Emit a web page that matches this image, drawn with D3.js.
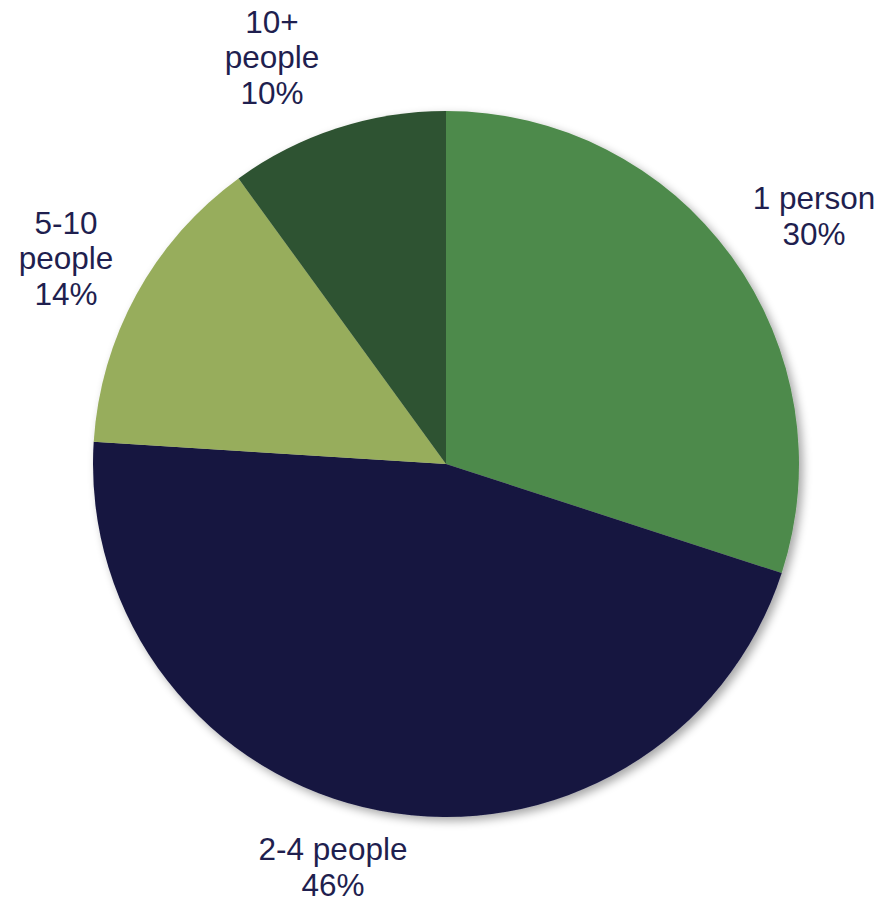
<!DOCTYPE html>
<html>
<head>
<meta charset="utf-8">
<script src="https://cdn.jsdelivr.net/npm/d3@7"></script>
<style>
  html, body { margin: 0; padding: 0; background: #fff; }
  svg { display: block; }
</style>
</head>
<body>
<svg id="chart" width="889" height="898"></svg>
<script>
// Household size shares
const categories = ["1 person", "2-4 people", "5-10 people", "10+ people"];
const values = [30, 46, 14, 10];
const colors = ["#4e8a4b", "#161640", "#97ad5c", "#2e5330"];
// Label text lines per slice (the last line is the percentage)
const labelLines = [["1 person"], ["2-4 people"], ["5-10", "people"], ["10+", "people"]];
// Label anchor points (centre of the text block)
const labelPos = [[814, 216], [333, 867], [66, 258], [272, 57]];

const width = 889, height = 898;
const cx = 446, cy = 464, radius = 353;
const textColor = "#1f1f4f";
const fontSize = 31.5, lineHeight = 35.5;

const svg = d3.select("#chart");

const defs = svg.append("defs");
const shadow = defs.append("filter")
  .attr("id", "pieShadow")
  .attr("x", "-10%").attr("y", "-10%")
  .attr("width", "120%").attr("height", "120%");
shadow.append("feGaussianBlur").attr("in", "SourceAlpha").attr("stdDeviation", 5).attr("result", "blur");
shadow.append("feOffset").attr("in", "blur").attr("dx", 4).attr("dy", 4).attr("result", "off");
shadow.append("feComponentTransfer").attr("in", "off").attr("result", "soft")
  .append("feFuncA").attr("type", "linear").attr("slope", 0.35);
const merge = shadow.append("feMerge");
merge.append("feMergeNode").attr("in", "soft");
merge.append("feMergeNode").attr("in", "SourceGraphic");

const data = categories.map((c, i) => ({ category: c, value: values[i], color: colors[i], i }));

const pie = d3.pie().value(d => d.value).sort(null);
const arc = d3.arc().innerRadius(0).outerRadius(radius);

const g = svg.append("g")
  .attr("transform", `translate(${cx},${cy})`)
  .attr("filter", "url(#pieShadow)");

g.selectAll("path")
  .data(pie(data))
  .join("path")
  .attr("d", arc)
  .attr("fill", d => d.data.color);

// Labels
const labels = svg.append("g")
  .attr("font-family", "Liberation Sans, Arial, sans-serif")
  .attr("font-size", fontSize)
  .attr("fill", textColor)
  .attr("text-anchor", "middle");

data.forEach((d, i) => {
  const lines = labelLines[i].concat([d.value + "%"]);
  const [x, y] = labelPos[i];
  const top = y - (lines.length - 1) * lineHeight / 2;
  const t = labels.append("text").attr("x", x);
  lines.forEach((line, k) => {
    t.append("tspan")
      .attr("x", x)
      .attr("y", top + k * lineHeight)
      .attr("dy", "0.35em")
      .text(line);
  });
});
</script>
</body>
</html>
